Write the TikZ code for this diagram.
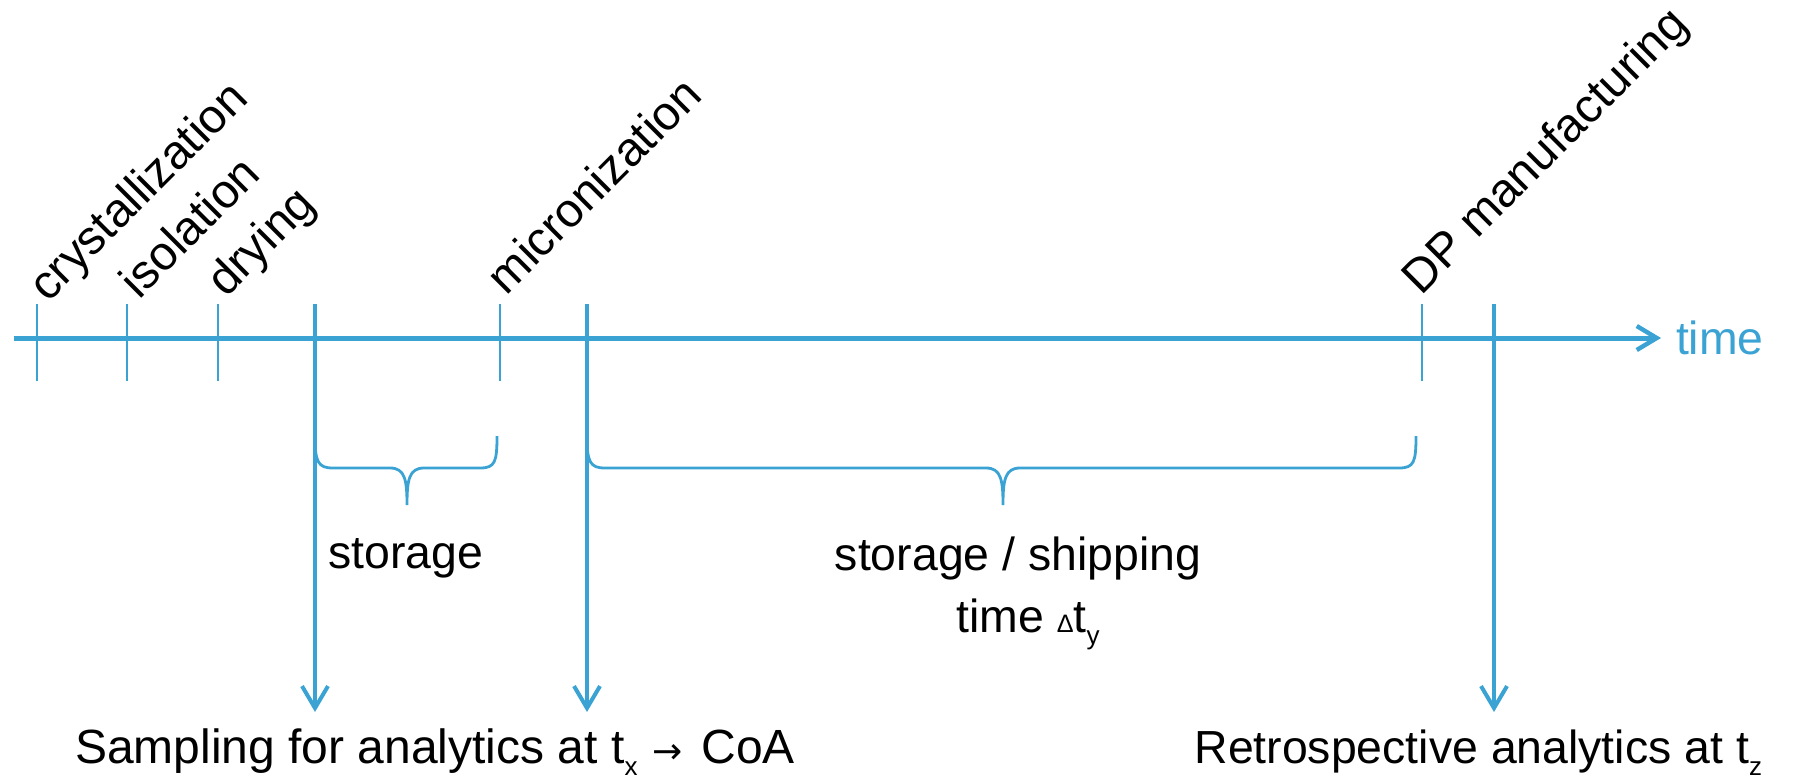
\documentclass[tikz,border=0pt]{standalone}
\usepackage{fontspec}
\setmainfont{Liberation Sans}
\newfontfamily\arrowfont{DejaVu Sans}
\usetikzlibrary{arrows.meta}
\definecolor{tlblue}{RGB}{59,163,212}
\newcommand{\lowsub}[1]{\raisebox{-0.27em}{\fontsize{13}{13}\selectfont #1}}
\begin{document}
\begin{tikzpicture}[x=0.5pt,y=-0.5pt,
  every node/.style={inner sep=0pt,outer sep=0pt,font=\fontsize{23.2}{27}\selectfont},
  axisline/.style={draw=tlblue,line width=2.5pt,-{Straight Barb[length=10pt,width=12pt,line width=2.2pt]}},
  tickline/.style={draw=tlblue,line width=1.4pt},
  probe/.style={draw=tlblue,line width=2pt,-{Straight Barb[length=11pt,width=13pt,line width=2pt]}},
  bracepath/.style={draw=tlblue,line width=1.4pt},
  steplabel/.style={anchor=base west,rotate=45,font=\fontsize{23.8}{27}\selectfont},
  ]
\path[use as bounding box] (0,0) rectangle (1798,776);

% time axis
\coordinate (a0) at (14,338);
\coordinate (a1) at (1661,338);
\draw[axisline] (a0) -- (a1);
\node[anchor=west,text=tlblue] (time) at (1676,338) {time};

% process steps: short ticks with slanted labels
\foreach \nm/\x in {cr/37,is/127,dr/218,mi/500,dp/1422}{
  \coordinate (\nm t) at (\x,304);
  \coordinate (\nm b) at (\x,381);
  \draw[tickline] (\nm t) -- (\nm b);
}
\node[steplabel] (lcr) at (48,303) {crystallization};
\node[steplabel] (lis) at (139,300) {isolation};
\node[steplabel] (ldr) at (226,298) {drying};
\node[steplabel] (lmi) at (506,296) {micronization};
\node[steplabel] (ldp) at (1421,296) {DP manufacturing};

% sampling points
\coordinate (s1t) at (315,304);
\coordinate (s2t) at (587,304);
\coordinate (s3t) at (1494,304);
\coordinate (s1b) at (315,712);
\coordinate (s2b) at (587,712);
\coordinate (s3b) at (1494,712);
\draw[probe] (s1t) -- (s1b);
\draw[probe] (s2t) -- (s2b);
\draw[probe] (s3t) -- (s3b);

% braces
\draw[bracepath] (315,436) .. controls (315,462) and (318,468) .. (333,468)
  -- (390,468) .. controls (405,468) and (407,480) .. (407,505)
  .. controls (407,480) and (409,468) .. (424,468)
  -- (480,468) .. controls (495,468) and (497,462) .. (497,436);
\draw[bracepath] (587,436) .. controls (587,462) and (590,468) .. (605,468)
  -- (986,468) .. controls (1001,468) and (1003,480) .. (1003,505)
  .. controls (1003,480) and (1005,468) .. (1020,468)
  -- (1399,468) .. controls (1414,468) and (1416,462) .. (1416,436);

% brace labels
\node[anchor=base] (st1) at (406,568) {storage};
\node[anchor=base] (st2) at (1018,570) {storage / shipping};
\node[anchor=base] (st3) at (1028,632) {time {\fontsize{12.6}{13}\selectfont Δ}t\lowsub{y}};

% analytics labels
\node[anchor=base west,font=\fontsize{24}{28}\selectfont] (samp) at (75,763)
  {Sampling for analytics at t\lowsub{x}\hspace{0.32em}{\arrowfont\fontsize{18}{18}\selectfont →}\hspace{0.38em}CoA};
\node[anchor=base east] (retro) at (1762,763) {Retrospective analytics at t\lowsub{z}};
\end{tikzpicture}
\end{document}
